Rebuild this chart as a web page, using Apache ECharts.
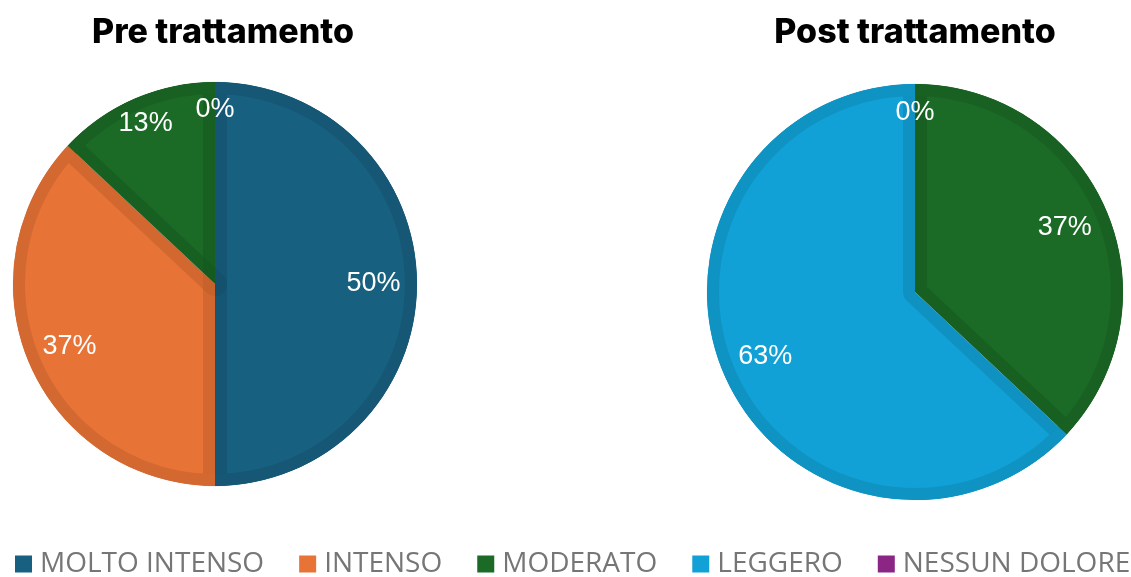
<!DOCTYPE html>
<html>
<head>
<meta charset="utf-8">
<script src="https://cdn.jsdelivr.net/npm/echarts@6/dist/echarts.min.js"></script>
<style>
  html, body { margin: 0; padding: 0; background: #ffffff; }
  #chart { width: 1131px; height: 577px; }
</style>
</head>
<body>
<div id="chart"></div>
<script>
// Pain intensity shares (%) before and after treatment
const categories = ['MOLTO INTENSO', 'INTENSO', 'MODERATO', 'LEGGERO', 'NESSUN DOLORE'];
const preValues  = [50, 37, 13, 0, 0];
const postValues = [0, 0, 37, 63, 0];
const chartTitles = ['Pre trattamento', 'Post trattamento'];

// One colour per category
const colors = ['#17607f', '#e87336', '#1b6b26', '#11a1d6', '#8c2684'];

// Each slice carries a slightly darker inner rim
const BAND = 12;
const SHADE = 0.91;
function shade(hex, k) {
  const n = parseInt(hex.slice(1), 16);
  const ch = [(n >> 16) & 255, (n >> 8) & 255, n & 255].map(v => Math.round(v * k));
  return '#' + ch.map(v => v.toString(16).padStart(2, '0')).join('');
}
const rimColors = colors.map(c => shade(c, SHADE));
// two strokes overlap on every shared edge, so each one darkens by the square root
const edgeAlpha = 1 - Math.sqrt(SHADE);

const pies = [
  { title: chartTitles[0], values: preValues,  center: [215, 284], r: 202, titleX: 218 },
  { title: chartTitles[1], values: postValues, center: [915, 292], r: 208, titleX: 910 }
];

const common = {
  type: 'pie',
  startAngle: 90,
  clockwise: true,
  silent: true,
  percentPrecision: 0,
  emphasis: { disabled: true },
  labelLine: { show: false }
};

const series = [];
pies.forEach(p => {
  const total = p.values.reduce((a, b) => a + b, 0);
  const items = (extra) => categories.map((name, i) => Object.assign({ name, value: p.values[i] }, extra(i)));

  // slice fills
  series.push(Object.assign({}, common, {
    center: p.center, radius: [0, p.r],
    label: { show: false },
    data: items(i => ({ itemStyle: { color: colors[i] } }))
  }));

  // darker band along the straight edges of every slice
  series.push(Object.assign({}, common, {
    center: p.center, radius: [0, p.r + BAND],
    label: { show: false },
    data: items(i => ({
      itemStyle: {
        color: 'rgba(0,0,0,0)',
        borderColor: 'rgba(0,0,0,' + edgeAlpha.toFixed(4) + ')',
        borderWidth: p.values[i] > 0 ? BAND * 2 : 0,
        borderJoin: 'round'
      }
    }))
  }));

  // darker band along the outer arc
  series.push(Object.assign({}, common, {
    center: p.center, radius: [p.r - BAND, p.r],
    label: { show: false },
    data: items(i => ({ itemStyle: { color: rimColors[i] } }))
  }));

  // white ring trimming the edge strokes back to the pie outline
  series.push(Object.assign({}, common, {
    center: p.center, radius: [p.r + 0.5, p.r + BAND * 2 + 4],
    label: { show: false },
    data: [{ name: '', value: 1, itemStyle: { color: '#ffffff' } }]
  }));

  // percentage labels: wide slices mid-way out, narrow slices nearer the rim
  const labelStyle = {
    position: 'inside',
    formatter: '{d}%',
    color: '#ffffff',
    fontFamily: 'Liberation Sans',
    fontSize: 27,
    padding: [6, 0, 0, 0]
  };
  [[0.54, s => s >= 0.2], [0.7, s => s < 0.2]].forEach(([inner, pick]) => {
    series.push(Object.assign({}, common, {
      center: p.center, radius: [p.r * inner, p.r],
      itemStyle: { color: 'rgba(0,0,0,0)' },
      label: labelStyle,
      data: items(i => ({ label: { show: pick(p.values[i] / total) } }))
    }));
  });
});

const chart = echarts.init(document.getElementById('chart'), null, { renderer: 'canvas' });
chart.setOption({
  animation: false,
  backgroundColor: '#ffffff',
  title: pies.map(p => ({
    text: p.title,
    left: p.titleX,
    top: 11,
    textAlign: 'center',
    textStyle: { fontFamily: 'Inter', fontWeight: 800, fontSize: 34, color: '#000000' }
  })),
  legend: {
    data: categories,
    left: 15,
    top: 550,
    padding: 0,
    icon: 'rect',
    itemWidth: 17,
    itemHeight: 17,
    itemGap: 35,
    selectedMode: false,
    textStyle: { fontFamily: 'Open Sans', fontSize: 28, color: '#767676', padding: [0, 0, 0, 3] }
  },
  series
});
</script>
</body>
</html>
